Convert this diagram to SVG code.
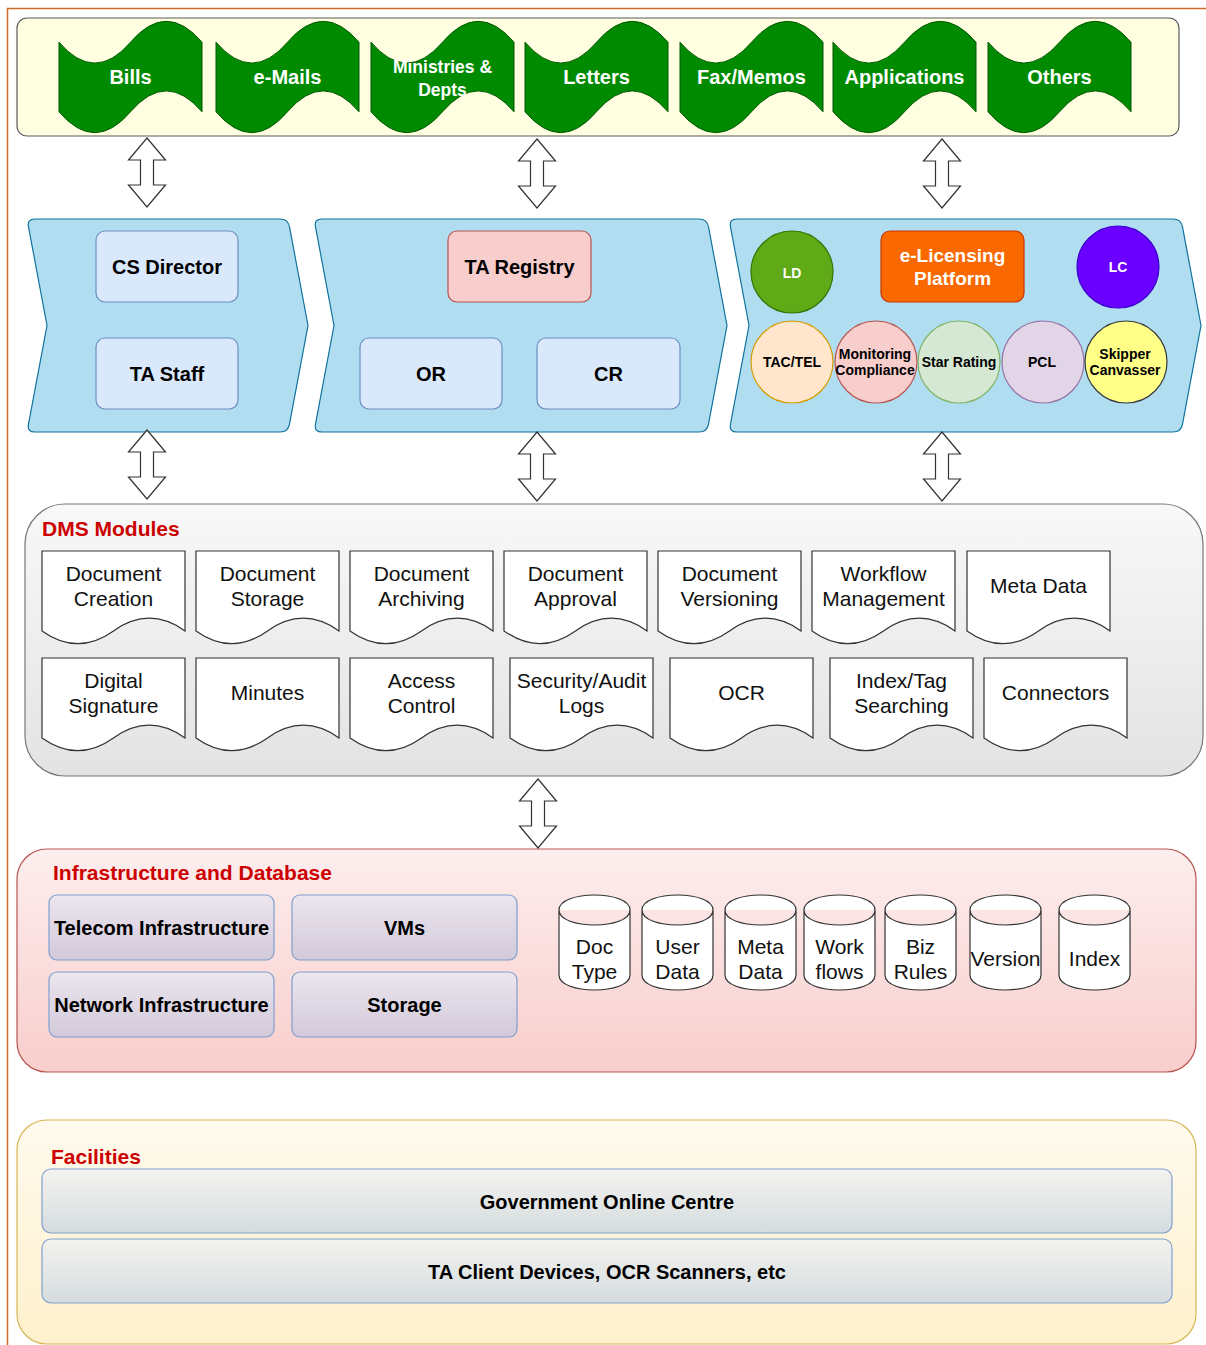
<svg xmlns="http://www.w3.org/2000/svg" xmlns:xlink="http://www.w3.org/1999/xlink" width="1206" height="1345" viewBox="0 0 1206 1345">
<style>
text{font-family:"Liberation Sans",Arial,Helvetica,sans-serif;text-anchor:middle;dominant-baseline:central}
.tape{fill:#008a00;stroke:#005700;stroke-width:1}
.tt{font-size:20px;font-weight:bold;fill:#fff}
.step{fill:#b1ddf0;stroke:#10739e;stroke-width:1.2}
.blue{fill:#dae8fc;stroke:#6c8ebf;stroke-width:1.2}
.b20{font-size:20px;font-weight:bold;fill:#000}
.b14{font-size:14px;font-weight:bold;fill:#000}
.w14{font-size:14px;font-weight:bold;fill:#fff}
.doc{fill:#fff;stroke:#333;stroke-width:1.2}
.d21{font-size:21px;fill:#111}
.cyl{fill:#fff;stroke:#333;stroke-width:1.2}
.title{font-size:21px;font-weight:bold;fill:#cc0000;text-anchor:start}
.arrow{fill:#fff;stroke:#333;stroke-width:1.2}
</style>
<defs>
<path id="tapeP" d="M0,23.2 Q35.75,64.96 71.5,23.2 Q107.25,-18.56 143,23.2 L143,92.8 Q107.25,51.04 71.5,92.8 Q35.75,134.56 0,92.8 Z"/>
<path id="docP" d="M0,0 H143 V79.9 Q107.25,54.5 71.5,79.9 Q35.75,105.3 0,79.9 Z"/>
<path id="cylP" d="M0,15 C0,-5 71,-5 71,15 V80 C71,100 0,100 0,80 Z M0,15 C0,35 71,35 71,15"/>
<polygon id="dbl" points="0,0 18.5,22 6.5,22 6.5,47 18.5,47 0,69 -18.5,47 -6.5,47 -6.5,22 -18.5,22"/>
<linearGradient id="gDms" x1="0" y1="0" x2="0" y2="1"><stop offset="0" stop-color="#f8f8f8"/><stop offset="1" stop-color="#e3e3e3"/></linearGradient>
<linearGradient id="gInf" x1="0" y1="0" x2="0" y2="1"><stop offset="0" stop-color="#fdeeee"/><stop offset="1" stop-color="#f8cecc"/></linearGradient>
<linearGradient id="gFac" x1="0" y1="0" x2="0" y2="1"><stop offset="0" stop-color="#fffaee"/><stop offset="1" stop-color="#fff1cc"/></linearGradient>
<linearGradient id="gLav" x1="0" y1="0" x2="0" y2="1"><stop offset="0" stop-color="#ece6ee"/><stop offset="1" stop-color="#d2c9da"/></linearGradient>
<linearGradient id="gGov" x1="0" y1="0" x2="0" y2="1"><stop offset="0" stop-color="#f3f3ef"/><stop offset="1" stop-color="#d5dcdf"/></linearGradient>
</defs>

<g id="frame">
<path d="M7.5,1345 V8.5 H1206" fill="none" stroke="#d06a29" stroke-width="1.5"/>
</g>

<!-- containers -->
<g id="sources">
<rect x="17" y="18" width="1162" height="118" rx="10" fill="#fffee0" stroke="#5a5a5a" stroke-width="1.2"/>
<use href="#tapeP" class="tape" x="59" y="19"/>
<use href="#tapeP" class="tape" x="216" y="19"/>
<use href="#tapeP" class="tape" x="371" y="19"/>
<use href="#tapeP" class="tape" x="525" y="19"/>
<use href="#tapeP" class="tape" x="680" y="19"/>
<use href="#tapeP" class="tape" x="833" y="19"/>
<use href="#tapeP" class="tape" x="988" y="19"/>
<text class="tt" x="130.5" y="77">Bills</text>
<text class="tt" x="287.5" y="77">e-Mails</text>
<text class="tt" x="442.5" y="67" style="font-size:17.5px">Ministries &amp;</text>
<text class="tt" x="442.5" y="90" style="font-size:17.5px">Depts</text>
<text class="tt" x="596.5" y="77">Letters</text>
<text class="tt" x="751.5" y="77">Fax/Memos</text>
<text class="tt" x="904.5" y="77">Applications</text>
<text class="tt" x="1059.5" y="77">Others</text>
</g>

<g id="step1">
<path class="step" d="M28.5,226.9 Q27,219 35,219 L280,219 Q288,219 289.5,226.9 L308,325.5 L289.5,424.1 Q288,432 280,432 L35,432 Q27,432 28.5,424.1 L47,325.5 Z"/>
<rect class="blue" x="96" y="231" width="142" height="71" rx="9"/>
<text class="b20" x="167" y="267">CS Director</text>
<rect class="blue" x="96" y="338" width="142" height="71" rx="9"/>
<text class="b20" x="167" y="374">TA Staff</text>
</g>

<g id="step2">
<path class="step" d="M315.5,226.9 Q314,219 322,219 L699,219 Q707,219 708.5,226.9 L727,325.5 L708.5,424.1 Q707,432 699,432 L322,432 Q314,432 315.5,424.1 L334,325.5 Z"/>
<rect x="448" y="231" width="143" height="71" rx="9" fill="#f8cecc" stroke="#b85450" stroke-width="1.2"/>
<text class="b20" x="519.5" y="267">TA Registry</text>
<rect class="blue" x="360" y="338" width="142" height="71" rx="9"/>
<text class="b20" x="431" y="374">OR</text>
<rect class="blue" x="537" y="338" width="143" height="71" rx="9"/>
<text class="b20" x="608.5" y="374">CR</text>
</g>

<g id="step3">
<path class="step" d="M730.5,226.9 Q729,219 737,219 L1173,219 Q1181,219 1182.5,226.9 L1201,325.5 L1182.5,424.1 Q1181,432 1173,432 L737,432 Q729,432 730.5,424.1 L749,325.5 Z"/>
<circle cx="792" cy="272" r="41" fill="#60a917" stroke="#2d7600" stroke-width="1.2"/>
<text class="w14" x="792" y="273">LD</text>
<rect x="881" y="231" width="143" height="71" rx="9" fill="#fa6800" stroke="#c73500" stroke-width="1.2"/>
<text class="tt" x="952.5" y="255" style="font-size:19px">e-Licensing</text>
<text class="tt" x="952.5" y="278" style="font-size:19px">Platform</text>
<circle cx="1118" cy="267" r="41" fill="#6a00ff" stroke="#3700cc" stroke-width="1.2"/>
<text class="w14" x="1118" y="267">LC</text>
<circle cx="792" cy="362" r="41" fill="#ffe6cc" stroke="#d79b00" stroke-width="1.2"/>
<text class="b14" x="792" y="362">TAC/TEL</text>
<circle cx="876" cy="362" r="41" fill="#f8cecc" stroke="#b85450" stroke-width="1.2"/>
<text class="b14" x="875" y="354">Monitoring</text>
<text class="b14" x="875" y="370">Compliance</text>
<circle cx="959" cy="362" r="41" fill="#d5e8d4" stroke="#82b366" stroke-width="1.2"/>
<text class="b14" x="959" y="362">Star Rating</text>
<circle cx="1043" cy="362" r="41" fill="#e1d5e7" stroke="#9673a6" stroke-width="1.2"/>
<text class="b14" x="1042" y="362">PCL</text>
<circle cx="1126" cy="362" r="41" fill="#ffff88" stroke="#36393d" stroke-width="1.2"/>
<text class="b14" x="1125" y="354">Skipper</text>
<text class="b14" x="1125" y="370">Canvasser</text>
</g>

<g id="dms">
<rect x="25" y="504" width="1178" height="272" rx="40" fill="url(#gDms)" stroke="#777" stroke-width="1.2"/>
<text class="title" x="42" y="528">DMS Modules</text>
<use href="#docP" class="doc" x="42" y="551"/>
<use href="#docP" class="doc" x="196" y="551"/>
<use href="#docP" class="doc" x="350" y="551"/>
<use href="#docP" class="doc" x="504" y="551"/>
<use href="#docP" class="doc" x="658" y="551"/>
<use href="#docP" class="doc" x="812" y="551"/>
<use href="#docP" class="doc" x="967" y="551"/>
<text class="d21" x="113.5" y="573">Document</text><text class="d21" x="113.5" y="598">Creation</text>
<text class="d21" x="267.5" y="573">Document</text><text class="d21" x="267.5" y="598">Storage</text>
<text class="d21" x="421.5" y="573">Document</text><text class="d21" x="421.5" y="598">Archiving</text>
<text class="d21" x="575.5" y="573">Document</text><text class="d21" x="575.5" y="598">Approval</text>
<text class="d21" x="729.5" y="573">Document</text><text class="d21" x="729.5" y="598">Versioning</text>
<text class="d21" x="883.5" y="573">Workflow</text><text class="d21" x="883.5" y="598">Management</text>
<text class="d21" x="1038.5" y="585">Meta Data</text>
<use href="#docP" class="doc" x="42" y="658"/>
<use href="#docP" class="doc" x="196" y="658"/>
<use href="#docP" class="doc" x="350" y="658"/>
<use href="#docP" class="doc" x="510" y="658"/>
<use href="#docP" class="doc" x="670" y="658"/>
<use href="#docP" class="doc" x="830" y="658"/>
<use href="#docP" class="doc" x="984" y="658"/>
<text class="d21" x="113.5" y="680">Digital</text><text class="d21" x="113.5" y="705">Signature</text>
<text class="d21" x="267.5" y="692">Minutes</text>
<text class="d21" x="421.5" y="680">Access</text><text class="d21" x="421.5" y="705">Control</text>
<text class="d21" x="581.5" y="680">Security/Audit</text><text class="d21" x="581.5" y="705">Logs</text>
<text class="d21" x="741.5" y="692">OCR</text>
<text class="d21" x="901.5" y="680">Index/Tag</text><text class="d21" x="901.5" y="705">Searching</text>
<text class="d21" x="1055.5" y="692">Connectors</text>
</g>

<g id="infra">
<rect x="17" y="849" width="1179" height="223" rx="30" fill="url(#gInf)" stroke="#b85450" stroke-width="1.2"/>
<text class="title" x="53" y="872">Infrastructure and Database</text>
<rect x="49" y="895" width="225" height="65" rx="8" fill="url(#gLav)" stroke="#7f9fcf" stroke-width="1.2"/>
<text class="b20" x="161.5" y="928">Telecom Infrastructure</text>
<rect x="292" y="895" width="225" height="65" rx="8" fill="url(#gLav)" stroke="#7f9fcf" stroke-width="1.2"/>
<text class="b20" x="404.5" y="928">VMs</text>
<rect x="49" y="972" width="225" height="65" rx="8" fill="url(#gLav)" stroke="#7f9fcf" stroke-width="1.2"/>
<text class="b20" x="161.5" y="1005">Network Infrastructure</text>
<rect x="292" y="972" width="225" height="65" rx="8" fill="url(#gLav)" stroke="#7f9fcf" stroke-width="1.2"/>
<text class="b20" x="404.5" y="1005">Storage</text>
<use href="#cylP" class="cyl" x="559" y="895"/>
<use href="#cylP" class="cyl" x="642" y="895"/>
<use href="#cylP" class="cyl" x="725" y="895"/>
<use href="#cylP" class="cyl" x="804" y="895"/>
<use href="#cylP" class="cyl" x="885" y="895"/>
<use href="#cylP" class="cyl" x="970" y="895"/>
<use href="#cylP" class="cyl" x="1059" y="895"/>
<text class="d21" x="594.5" y="946">Doc</text><text class="d21" x="594.5" y="971">Type</text>
<text class="d21" x="677.5" y="946">User</text><text class="d21" x="677.5" y="971">Data</text>
<text class="d21" x="760.5" y="946">Meta</text><text class="d21" x="760.5" y="971">Data</text>
<text class="d21" x="839.5" y="946">Work</text><text class="d21" x="839.5" y="971">flows</text>
<text class="d21" x="920.5" y="946">Biz</text><text class="d21" x="920.5" y="971">Rules</text>
<text class="d21" x="1005.5" y="958">Version</text>
<text class="d21" x="1094.5" y="958">Index</text>
</g>

<g id="facilities">
<rect x="17" y="1120" width="1179" height="224" rx="30" fill="url(#gFac)" stroke="#d6b656" stroke-width="1.2"/>
<text class="title" x="51" y="1156">Facilities</text>
<rect x="42" y="1169" width="1130" height="64" rx="9" fill="url(#gGov)" stroke="#7f9fcf" stroke-width="1.2"/>
<text class="b20" x="607" y="1202">Government Online Centre</text>
<rect x="42" y="1239" width="1130" height="64" rx="9" fill="url(#gGov)" stroke="#7f9fcf" stroke-width="1.2"/>
<text class="b20" x="607" y="1272">TA Client Devices, OCR Scanners, etc</text>
</g>

<g id="connectors">
<use href="#dbl" class="arrow" x="147" y="138"/>
<use href="#dbl" class="arrow" x="537" y="139"/>
<use href="#dbl" class="arrow" x="942" y="139"/>
<use href="#dbl" class="arrow" x="147" y="430"/>
<use href="#dbl" class="arrow" x="537" y="432"/>
<use href="#dbl" class="arrow" x="942" y="432"/>
<use href="#dbl" class="arrow" x="538" y="779"/>
</g>
</svg>
